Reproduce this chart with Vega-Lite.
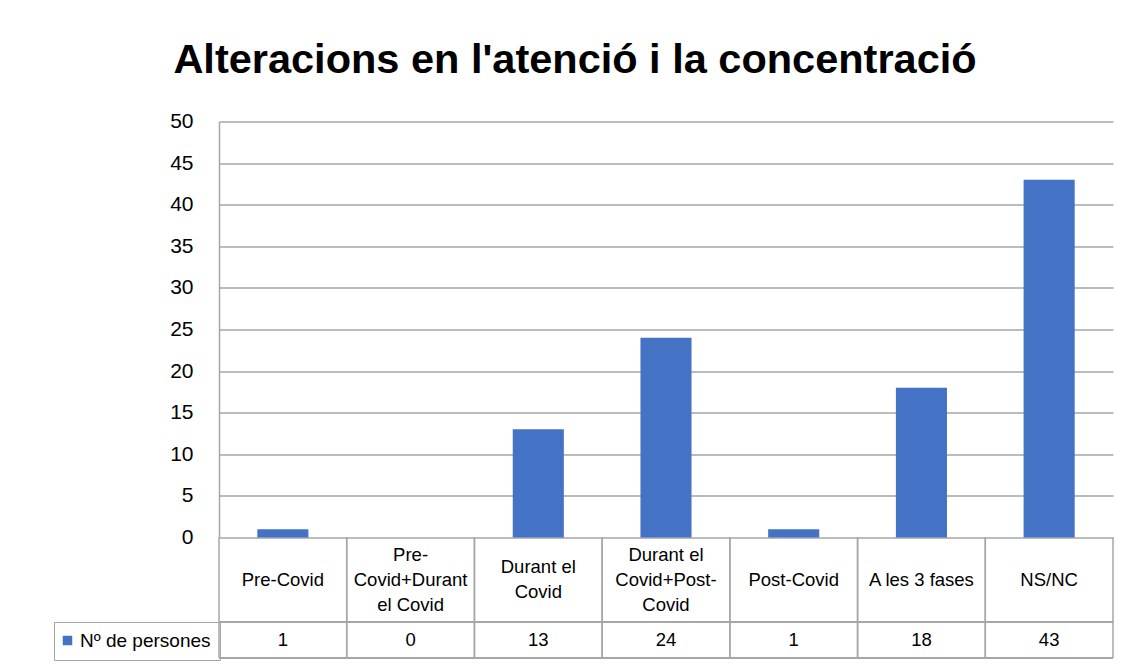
{
  "$schema": "https://vega.github.io/schema/vega-lite/v6.json",
  "autosize": {"type": "none"},
  "width": 894,
  "height": 416,
  "padding": {"left": 219, "top": 121.5, "right": 22, "bottom": 126.5},
  "background": "#ffffff",
  "title": {
    "text": "Alteracions en l'atenció i la concentració",
    "font": "Liberation Sans",
    "fontSize": 41.5,
    "fontWeight": "bold",
    "color": "#000000",
    "anchor": "middle",
    "dx": -91,
    "dy": 40,
    "baseline": "alphabetic",
    "offset": 36
  },
  "data": {
    "values": [
      {"fase": "Pre-Covid", "etiqueta": ["Pre-Covid"], "persones": 1, "serie": "Nº de persones"},
      {"fase": "Pre-Covid+Durant el Covid", "etiqueta": ["Pre-", "Covid+Durant", "el Covid"], "persones": 0, "serie": "Nº de persones"},
      {"fase": "Durant el Covid", "etiqueta": ["Durant el", "Covid"], "persones": 13, "serie": "Nº de persones"},
      {"fase": "Durant el Covid+Post-Covid", "etiqueta": ["Durant el", "Covid+Post-", "Covid"], "persones": 24, "serie": "Nº de persones"},
      {"fase": "Post-Covid", "etiqueta": ["Post-Covid"], "persones": 1, "serie": "Nº de persones"},
      {"fase": "A les 3 fases", "etiqueta": ["A les 3 fases"], "persones": 18, "serie": "Nº de persones"},
      {"fase": "NS/NC", "etiqueta": ["NS/NC"], "persones": 43, "serie": "Nº de persones"}
    ]
  },
  "layer": [
    {
      "mark": {"type": "bar", "width": {"band": 0.4}, "color": "#4472c4"},
      "encoding": {
        "x": {"field": "fase", "type": "nominal", "sort": null, "axis": null,
              "scale": {"paddingInner": 0, "paddingOuter": 0}},
        "y": {"field": "persones", "type": "quantitative", "title": null,
              "scale": {"domain": [0, 50], "nice": false},
              "axis": {"values": [0, 5, 10, 15, 20, 25, 30, 35, 40, 45, 50]}},
        "color": {"field": "serie", "type": "nominal",
                  "scale": {"range": ["#4472c4"]},
                  "legend": {"title": null}}
      }
    },
    {
      "transform": [{"filter": "length(datum.etiqueta) == 1"}],
      "mark": {"type": "text", "font": "Liberation Sans", "fontSize": 18.5, "lineHeight": 25, "baseline": "middle", "align": "center", "color": "#000000"},
      "encoding": {
        "x": {"field": "fase", "type": "nominal", "sort": null, "axis": null},
        "y": {"datum": -5.08, "type": "quantitative", "title": null},
        "text": {"field": "etiqueta"}
      }
    },
    {
      "transform": [{"filter": "length(datum.etiqueta) == 2"}],
      "mark": {"type": "text", "font": "Liberation Sans", "fontSize": 18.5, "lineHeight": 25, "baseline": "middle", "align": "center", "color": "#000000"},
      "encoding": {
        "x": {"field": "fase", "type": "nominal", "sort": null, "axis": null},
        "y": {"datum": -3.58, "type": "quantitative", "title": null},
        "text": {"field": "etiqueta"}
      }
    },
    {
      "transform": [{"filter": "length(datum.etiqueta) == 3"}],
      "mark": {"type": "text", "font": "Liberation Sans", "fontSize": 18.5, "lineHeight": 25, "baseline": "middle", "align": "center", "color": "#000000"},
      "encoding": {
        "x": {"field": "fase", "type": "nominal", "sort": null, "axis": null},
        "y": {"datum": -2.08, "type": "quantitative", "title": null},
        "text": {"field": "etiqueta"}
      }
    },
    {
      "mark": {"type": "text", "font": "Liberation Sans", "fontSize": 18.5, "baseline": "middle", "align": "center", "color": "#000000"},
      "encoding": {
        "x": {"field": "fase", "type": "nominal", "sort": null, "axis": null},
        "y": {"datum": -12.32, "type": "quantitative", "title": null},
        "text": {"field": "persones", "type": "quantitative"}
      }
    },
    {
      "mark": {"type": "rule", "color": "#a6a6a6", "strokeWidth": 1.5},
      "encoding": {
        "x": {"field": "fase", "type": "nominal", "sort": null, "axis": null, "bandPosition": 0},
        "y": {"datum": 0, "type": "quantitative", "title": null},
        "y2": {"datum": -14.48}
      }
    },
    {
      "mark": {"type": "rule", "color": "#a6a6a6", "strokeWidth": 1.5},
      "encoding": {
        "x": {"field": "fase", "type": "nominal", "sort": null, "axis": null, "bandPosition": 1},
        "y": {"datum": 0, "type": "quantitative", "title": null},
        "y2": {"datum": -14.48}
      }
    },
    {
      "mark": {"type": "rule", "color": "#a6a6a6", "strokeWidth": 1.5},
      "encoding": {
        "y": {"datum": -10.16, "type": "quantitative", "title": null}
      }
    },
    {
      "mark": {"type": "rule", "color": "#a6a6a6", "strokeWidth": 1.5},
      "encoding": {
        "y": {"datum": -14.48, "type": "quantitative", "title": null}
      }
    }
  ],
  "config": {
    "view": {"stroke": null},
    "axisY": {
      "domain": true,
      "domainColor": "#a6a6a6",
      "domainWidth": 1.5,
      "ticks": false,
      "grid": true,
      "gridColor": "#a6a6a6",
      "gridWidth": 1.5,
      "gridOpacity": 1,
      "labelFont": "Liberation Sans",
      "labelFontSize": 21,
      "labelColor": "#000000",
      "labelPadding": 26
    },
    "legend": {
      "orient": "none",
      "legendX": -165,
      "legendY": 500.5,
      "strokeColor": "#a6a6a6",
      "padding": 9,
      "symbolType": "square",
      "symbolSize": 90,
      "symbolStrokeWidth": 0,
      "symbolOpacity": 1,
      "symbolOffset": -5,
      "labelFont": "Liberation Sans",
      "labelFontSize": 19,
      "labelColor": "#000000",
      "labelOffset": 3
    }
  }
}
